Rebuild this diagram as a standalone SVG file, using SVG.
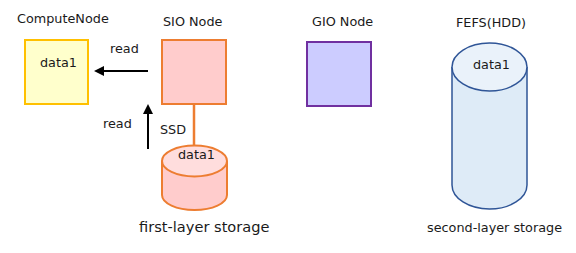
<svg xmlns="http://www.w3.org/2000/svg" width="576" height="253" viewBox="0 0 576 253">
<defs>
<style>
text{font-family:"DejaVu Sans","Liberation Sans",sans-serif;font-size:12.8px;fill:#1a1a1a}
.big{font-size:14.6px}
</style>
<marker id="ah" markerWidth="10" markerHeight="10" refX="8" refY="5" orient="auto" markerUnits="userSpaceOnUse">
<path d="M0,0 L10,5 L0,10 z" fill="#000"/>
</marker>
</defs>
<rect width="576" height="253" fill="#fff"/>
<g id="compute">
<text x="17" y="23">ComputeNode</text>
<rect x="25" y="40" width="63" height="64" fill="#FFFFCC" stroke="#FFC000" stroke-width="2"/>
<text x="40" y="67">data1</text>
</g>
<g id="sio">
<text x="163" y="26">SIO Node</text>
<rect x="162" y="40" width="64" height="64" fill="#FFCCCC" stroke="#ED7D31" stroke-width="2"/>
</g>
<g id="gio">
<text x="312" y="26">GIO Node</text>
<rect x="307" y="42" width="64" height="64" fill="#CCCCFF" stroke="#7030A0" stroke-width="2"/>
</g>
<g id="ssd">
<path d="M162,161 L162,195 A32.5,15 0 0 0 227,195 L227,161" fill="#FFCCCC" stroke="#ED7D31" stroke-width="2"/>
<ellipse cx="194.5" cy="161" rx="32.5" ry="15.5" fill="#FFDDDD" stroke="#ED7D31" stroke-width="2"/>
<text x="178" y="159">data1</text>
<text class="big" x="139" y="232">first-layer storage</text>
</g>
<g id="fefs">
<text x="456" y="27">FEFS(HDD)</text>
<path d="M452,67 L452,185 A37.5,24 0 0 0 527,185 L527,67" fill="#DEEBF7" stroke="#2F5597" stroke-width="1.5"/>
<ellipse cx="489.5" cy="67" rx="37.5" ry="24" fill="#EAF2FA" stroke="#2F5597" stroke-width="1.5"/>
<text x="473" y="69">data1</text>
<text x="427" y="232">second-layer storage</text>
</g>
<g id="connectors">
<line x1="148" y1="71" x2="96" y2="71" stroke="#000" stroke-width="2" marker-end="url(#ah)"/>
<text x="110" y="53">read</text>
<line x1="148" y1="149" x2="148" y2="106" stroke="#000" stroke-width="2" marker-end="url(#ah)"/>
<text x="103" y="128">read</text>
<line x1="194" y1="105" x2="194" y2="145" stroke="#ED7D31" stroke-width="2.5"/>
<text x="160" y="134">SSD</text>
</g>
</svg>
